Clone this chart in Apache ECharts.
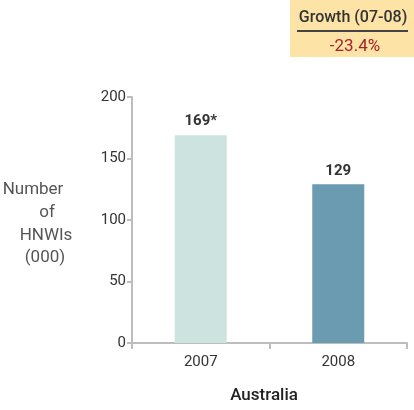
<!DOCTYPE html>
<html><head><meta charset="utf-8">
<script src="https://cdn.jsdelivr.net/npm/echarts@6/dist/echarts.min.js"></script>
<style>html,body{margin:0;padding:0;background:#fff}#c{width:414px;height:410px}</style>
</head><body><div id="c"></div>
<script>
const categories = ['2007', '2008'];
const values = [169, 129];
const valueLabels = ['169*', '129'];
const barColors = ['#cce3e0', '#6b9bb0'];
const yTicks = [0, 50, 100, 150, 200];
const growthTitle = 'Growth (07-08)';
const growthValue = '-23.4%';
const xName = 'Australia';
const yNameLines = ['Number', 'of', 'HNWIs', '(000)'];

const chart = echarts.init(document.getElementById('c'));
const FONT = 'Roboto';
chart.setOption({
  animation: false,
  textStyle: { fontFamily: FONT },
  grid: { left: 132, right: 7, top: 97, bottom: 67 },
  xAxis: {
    type: 'category', data: categories,
    axisLine: { lineStyle: { color: '#bdbdbd', width: 2 } },
    axisTick: { show: true, length: 6, lineStyle: { color: '#bdbdbd', width: 2 } },
    axisLabel: { color: '#333', fontSize: 15, margin: 12, fontFamily: FONT }
  },
  yAxis: {
    type: 'value', min: 0, max: 200, interval: 50,
    axisLine: { show: true, lineStyle: { color: '#bdbdbd', width: 2 } },
    axisTick: { show: true, length: 5, lineStyle: { color: '#bdbdbd', width: 2 } },
    splitLine: { show: false },
    axisLabel: { color: '#333', fontSize: 15, margin: 6, fontFamily: FONT,
      formatter: v => yTicks.includes(v) ? String(v) : '' }
  },
  series: [{
    type: 'bar', barWidth: 52,
    data: values.map((v, i) => ({ value: v, itemStyle: { color: barColors[i] } })),
    label: { show: true, position: 'top', distance: 6, color: '#333', fontSize: 15,
      fontWeight: 'bold', fontFamily: FONT,
      formatter: p => valueLabels[p.dataIndex] }
  }],
  graphic: [
    { type: 'rect', left: 290, top: 0, shape: { width: 124, height: 57 },
      style: { fill: '#fde3a6' } },
    { type: 'text', x: 353, y: 18, style: { text: growthTitle, align: 'center', verticalAlign: 'middle',
      fill: '#333', font: '500 16px ' + FONT } },
    { type: 'line', shape: { x1: 297, y1: 31, x2: 408, y2: 31 }, style: { stroke: '#444', lineWidth: 2 } },
    { type: 'text', x: 355, y: 47, style: { text: growthValue, align: 'center', verticalAlign: 'middle',
      fill: '#a3232a', font: '17px ' + FONT } },
    { type: 'text', x: 33, y: 190, style: { text: yNameLines[0], align: 'center', verticalAlign: 'middle',
      fill: '#555', font: '17px ' + FONT } },
    { type: 'text', x: 47, y: 213, style: { text: yNameLines[1], align: 'center', verticalAlign: 'middle',
      fill: '#555', font: '17px ' + FONT } },
    { type: 'text', x: 46, y: 236, style: { text: yNameLines[2], align: 'center', verticalAlign: 'middle',
      fill: '#555', font: '17px ' + FONT } },
    { type: 'text', x: 45, y: 258, style: { text: yNameLines[3], align: 'center', verticalAlign: 'middle',
      fill: '#555', font: '17px ' + FONT } },
    { type: 'text', x: 264, y: 396, style: { text: xName, align: 'center', verticalAlign: 'middle',
      fill: '#222', font: '500 17px ' + FONT } }
  ]
});
</script></body></html>
